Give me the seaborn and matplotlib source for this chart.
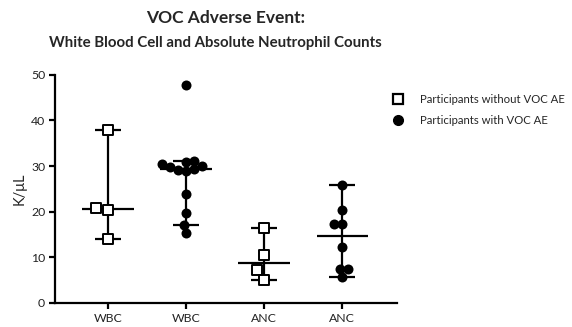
import numpy as np
import pandas as pd
import matplotlib
matplotlib.use("Agg")
import matplotlib.pyplot as plt
from matplotlib.lines import Line2D
import seaborn as sns

# ---- data ----
categories = ["WBC_without", "WBC_with", "ANC_without", "ANC_with"]
tick_labels = ["WBC", "WBC", "ANC", "ANC"]
groups = ["without", "with", "without", "with"]

wbc_without = [38.0, 20.8, 20.3, 14.1]
wbc_with = [47.8, 31.2, 30.9, 30.5, 30.1, 29.8, 29.4, 29.2, 28.9, 23.8, 19.6, 17.0, 15.3]
anc_without = [16.4, 10.4, 7.1, 5.0]
anc_with = [25.8, 20.4, 17.3, 17.3, 12.2, 7.4, 7.4, 5.7]

whisker_low = [14.1, 17.0, 5.0, 5.7]
whisker_high = [38.0, 31.1, 16.4, 25.8]

legend_labels = ["Participants without VOC AE", "Participants with VOC AE"]
title = "VOC Adverse Event:"
subtitle = "White Blood Cell and Absolute Neutrophil Counts"
ylabel = "K/\u03bcL"

series = [wbc_without, wbc_with, anc_without, anc_with]
rows = []
for cat, grp, vals in zip(categories, groups, series):
    for v in vals:
        rows.append({"cat": cat, "group": grp, "value": v})
df = pd.DataFrame(rows)

# ---- style ----
sns.set_style("white")
plt.rcParams["font.family"] = ["Lato", "DejaVu Sans"]

fig = plt.figure(figsize=(5.72, 3.27), dpi=100)
ax = fig.add_axes([0.096, 0.074, 0.598, 0.697])

medians = [np.median(v) for v in series]
pos = np.arange(len(categories))

# whiskers and medians (behind points)
ax.errorbar(pos, medians,
            yerr=[np.array(medians) - np.array(whisker_low),
                  np.array(whisker_high) - np.array(medians)],
            fmt="none", ecolor="black", elinewidth=1.6, capsize=9.5,
            capthick=1.6, zorder=1)
ax.hlines(medians, pos - 0.33, pos + 0.33, colors="black", linewidth=1.6, zorder=1)

n0 = len(ax.collections)
sns.swarmplot(data=df[df.group == "without"], x="cat", y="value", order=categories,
              marker="s", color="white", edgecolor="black", linewidth=1.4,
              size=7.2, ax=ax, zorder=3)
n1 = len(ax.collections)
sns.swarmplot(data=df[df.group == "with"], x="cat", y="value", order=categories,
              marker="o", color="black", edgecolor="black", linewidth=0,
              size=5.8, ax=ax, zorder=3)
n2 = len(ax.collections)
square_colls = ax.collections[n0:n1]
circle_colls = ax.collections[n1:n2]

ax.set_xlim(-0.68, 3.70)
ax.set_ylim(0, 50)
ax.set_yticks([0, 10, 20, 30, 40, 50])
ax.set_xticks(pos)
ax.set_xticklabels(tick_labels, fontsize=8.8)
ax.tick_params(axis="y", labelsize=8.8)
ax.set_xlabel("")
ax.set_ylabel(ylabel, fontsize=10.5, labelpad=3)
for s in ["top", "right"]:
    ax.spines[s].set_visible(False)
for s in ["left", "bottom"]:
    ax.spines[s].set_linewidth(1.6)
    ax.spines[s].set_color("black")
ax.tick_params(axis="both", direction="out", length=4, width=1.6, color="black",
               left=True, bottom=True, pad=3, labelcolor="#222222")

# compute swarm layout with compact markers (allowing overlap like the
# reference), then freeze it and enlarge the markers
fig.canvas.draw()
for colls, sz in [(square_colls, 6.6), (circle_colls, 7.2)]:
    for c in colls:
        if "draw" in c.__dict__:
            del c.__dict__["draw"]
        c.set_sizes([sz ** 2])

fig.text(0.395, 0.945, title, ha="center", va="center", fontsize=12.5, fontweight="bold")
fig.text(0.377, 0.868, subtitle, ha="center", va="center", fontsize=10.8, fontweight="bold")

handles = [
    Line2D([], [], marker="s", color="none", markerfacecolor="white",
           markeredgecolor="black", markeredgewidth=1.6, markersize=7),
    Line2D([], [], marker="o", color="none", markerfacecolor="black",
           markeredgecolor="black", markersize=7),
]
fig.legend(handles, legend_labels, loc="upper left", bbox_to_anchor=(0.668, 0.745),
           frameon=False, fontsize=8.2, handlelength=1.0, handletextpad=1.4,
           labelspacing=0.95)

fig.savefig("out.png", dpi=100)
